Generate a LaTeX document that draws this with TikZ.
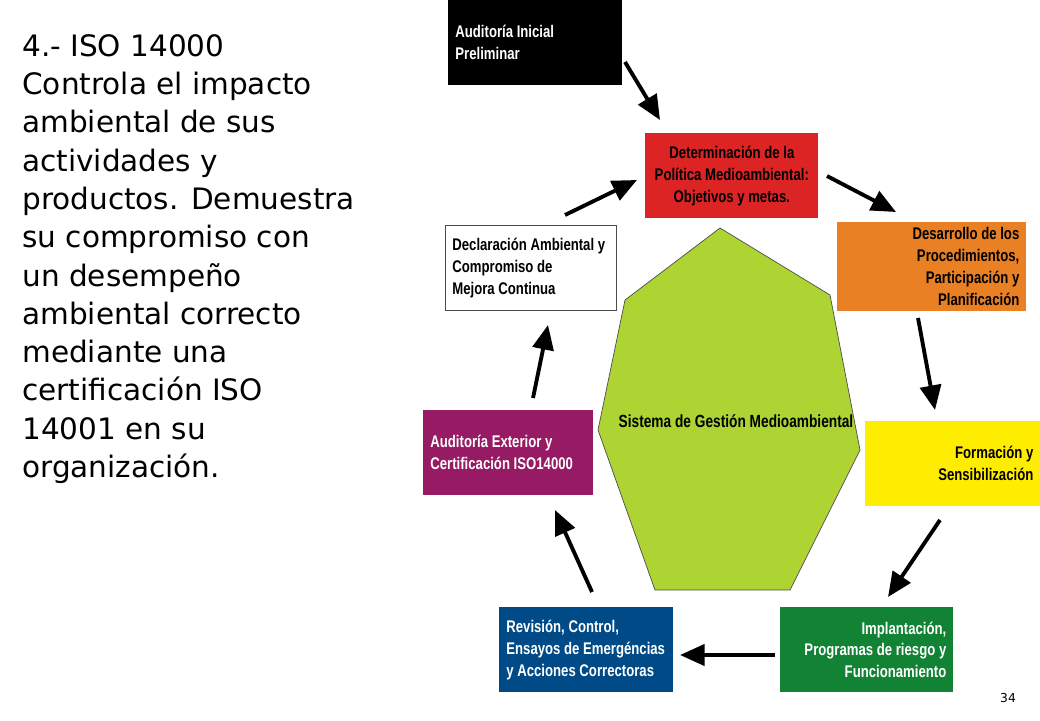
\documentclass[tikz,border=0pt]{standalone}
\usepackage{fontspec}
\setmainfont{DejaVu Sans}
\newfontfamily\boxfont[FakeStretch=0.78]{Liberation Sans}
\usetikzlibrary{arrows.meta}
\definecolor{polred}{RGB}{221,36,36}
\definecolor{devorange}{RGB}{234,128,36}
\definecolor{formyellow}{RGB}{255,237,0}
\definecolor{impgreen}{RGB}{18,130,52}
\definecolor{revblue}{RGB}{0,75,135}
\definecolor{audpurple}{RGB}{150,26,100}
\definecolor{sysgreen}{RGB}{174,212,52}
\begin{document}
\begin{tikzpicture}[
    x=0.02cm, y=-0.02cm,
    stage/.style={text width=#1*0.02cm-8pt, minimum height=85*0.02cm, inner xsep=4pt, inner ysep=3pt,
      font=\boxfont\bfseries\fontsize{9.6}{12.5}\selectfont},
    stage/.default=174,
    flow/.style={line width=2.2pt, -{Triangle[length=14pt,width=12pt]}},
  ]
  \useasboundingbox (0,0) rectangle (1040,720);

  \node[anchor=north west, align=left, inner sep=0,
    font=\fontsize{16.8}{21.8}\selectfont] (intro) at (22,34)
    {4.- ISO 14000\\Controla el impacto\\ambiental de sus\\actividades y\\productos. Demuestra\\su compromiso con\\un desempeño\\ambiental correcto\\mediante una\\certificación ISO\\14001 en su\\organización.};

  % heptagon
  \filldraw[fill=sysgreen, draw=black!70, thin]
    (720,228) -- (830,295) -- (860,450) -- (790,590) -- (655,590) -- (598,430) -- (625,300) -- cycle;
  \node[font=\boxfont\bfseries\fontsize{10}{12}\selectfont] (sys) at (736,421) {Sistema de Gestión Medioambiental};

  \node[stage, fill=black, text=white, align=flush left, anchor=north west] (ini) at (448,0)
    {Auditoría Inicial\\Preliminar\\[14pt]};
  \node[stage=173, fill=polred, anchor=north west, align=flush center] (pol) at (645,133)
    {Determinación de la\\Política Medioambiental:\\Objetivos y metas.};
  \node[stage=189, fill=devorange, anchor=north west, align=flush right] (des) at (837,222)
    {Desarrollo de los\\Procedimientos,\\Participación y Planificación};
  \node[stage=175, fill=formyellow, anchor=north west, align=flush right] (for) at (865,421)
    {Formación y\\Sensibilización};
  \node[stage=173, fill=impgreen, text=white, anchor=north west, align=flush right] (imp) at (780,607)
    {Implantación,\\Programas de riesgo y\\Funcionamiento};
  \node[stage, fill=revblue, text=white, anchor=north west, align=flush left] (rev) at (499,607)
    {Revisión, Control,\\Ensayos de Emergéncias\\y Acciones Correctoras};
  \node[stage=170, fill=audpurple, text=white, anchor=north west, align=flush left] (ext) at (423,410)
    {Auditoría Exterior y\\Certificación ISO14000};
  \node[stage=171, draw=black!70, fill=white, anchor=north west, align=flush left] (dec) at (445,225)
    {Declaración Ambiental y\\Compromiso de\\Mejora Continua};

  \draw[flow] (625,62) -- (660,120);
  \draw[flow] (565,215) -- (637,180);
  \draw[flow] (827,176) -- (896,212);
  \draw[flow] (918,318) -- (935,410);
  \draw[flow] (940,520) -- (888,597);
  \draw[flow] (775,655) -- (680,655);
  \draw[flow] (592,592) -- (555,510);
  \draw[flow] (533,398) -- (548,325);

  \node[font=\fontsize{7}{8}\selectfont] (page) at (1008,698) {34};
\end{tikzpicture}
\end{document}
